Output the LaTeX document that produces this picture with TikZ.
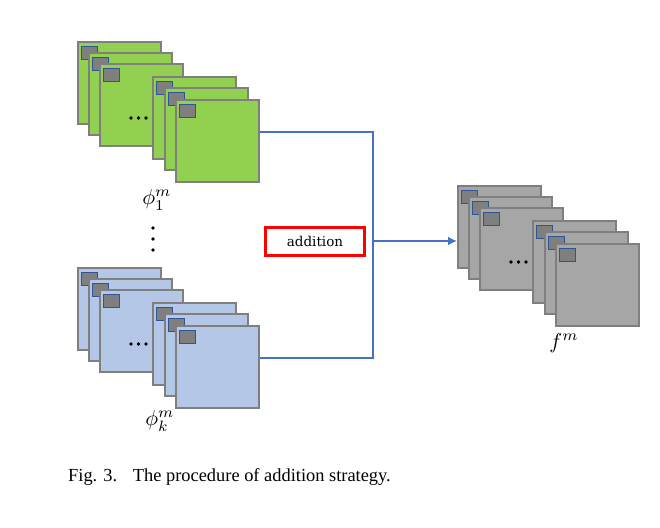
\documentclass[tikz,border=0pt]{standalone}
\usepackage{fontspec}
\newfontfamily\capfont{Liberation Serif}
\newfontfamily\boxfont{DejaVu Serif}
\usetikzlibrary{arrows.meta}
% --- Màu ---
\definecolor{mapgreen}{HTML}{92D050}
\definecolor{mapblue}{HTML}{B4C7E7}
\definecolor{mapgray}{HTML}{A6A6A6}
\definecolor{mapedge}{HTML}{7F7F7F}
\definecolor{patchfill}{HTML}{7F7F7F}
\definecolor{patchedge}{HTML}{2F5597}
\definecolor{linkblue}{HTML}{4472C4}
\tikzset{
	fmap/.style={draw=mapedge, line width=2.3pt, minimum width=83pt, minimum height=82pt, inner sep=0pt, anchor=north west},
	patchbox/.style={draw=patchedge, fill=patchfill, line width=1pt, minimum width=16pt, minimum height=13pt, inner sep=0pt, anchor=north west},
	link/.style={draw=linkblue, line width=2.6pt},
}
% --- Chồng 6 bản đồ đặc trưng: tên, x, y, màu ---
\newcommand{\fstack}[4]{%
	\foreach \dx/\dy [count=\i] in {0/0,11/11,22/22,75/35,87/46,98/58}{
		\node[fmap, fill=#4] (#1\i) at (#2+\dx,#3+\dy) {};
		\node[patchbox] (#1p\i) at ([xshift=4pt,yshift=-5pt]#1\i.north west) {};
	}
	\foreach \k in {0,1,2} \fill (#2+54+\k*7.5,#3+77) circle (1.8pt);
}
\begin{document}
\begin{tikzpicture}[x=1pt,y=-1pt, >=Latex, line join=miter]
	\useasboundingbox (0,0) rectangle (660,527);
	% --- Các chồng bản đồ ---
	\fstack{g}{77}{41}{mapgreen}
	\fstack{b}{77}{267}{mapblue}
	\fstack{r}{457}{185}{mapgray}
	% --- Nhãn ---
	\node[scale=2.15] (phi1) at (157,200) {$\phi_1^m$};
	\node[scale=2.15] (phik) at (160,421) {$\phi_k^m$};
	\node[scale=2.15] (fm) at (564,343) {$f^m$};
	\foreach \y in {228,239,250} \fill (153,\y) circle (1.8pt);
	% --- Phép cộng ---
	\node[draw=red, line width=3pt, minimum width=99pt, minimum height=28pt, font=\boxfont\fontsize{13.5}{16}\selectfont] (add) at (315,241) {addition};
	\coordinate (join) at (373,241);
	\draw[link] ([yshift=9pt]g6.east) -| (join) |- ([yshift=9pt]b6.east);
	\draw[link, -{Latex[length=9pt,width=9pt]}] (join) -- (r1.west |- join);
	% --- Chú thích ---
	\node[anchor=base west, inner sep=0pt, font=\capfont\fontsize{18.4}{22}\selectfont] (cap) at (68,481) {Fig. 3.\hspace{0.85em}The procedure of addition strategy.};
\end{tikzpicture}
\end{document}
